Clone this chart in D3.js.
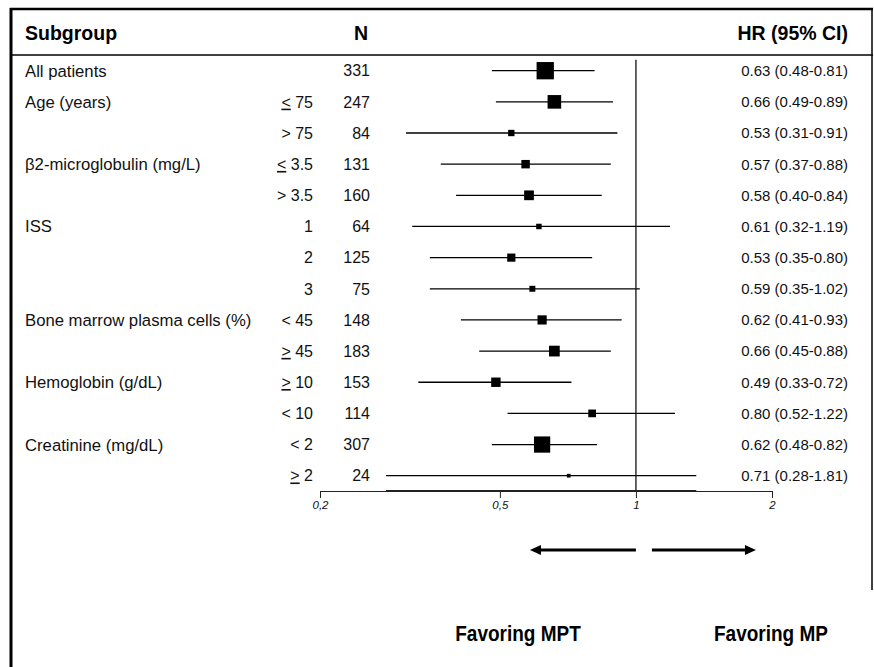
<!DOCTYPE html>
<html>
<head>
	<meta charset="utf-8">
	<title>Subgroup forest plot</title>
	<script src="https://d3js.org/d3.v7.min.js"></script>
	<style type="text/css">
		body {
			margin: 0;
			background: #fff;
		}
		svg {
			display: block;
			font-family: "Liberation Sans", Arial, Helvetica, sans-serif;
		}
		.frame {
			stroke: #000;
			fill: none;
		}
		.head {
			font-weight: bold;
			font-size: 19.5px;
		}
		.label {
			font-size: 16.7px;
			fill: #111;
		}
		.level, .count {
			font-size: 16px;
			fill: #111;
		}
		.hr {
			font-size: 15px;
			fill: #111;
		}
		.ci {
			stroke: #000;
			stroke-width: 1.3;
		}
		.axis path, .axis line {
			stroke: #222;
		}
		.axis text {
			font-size: 11.5px;
			font-style: italic;
			fill: #111;
		}
		.favor {
			font-weight: bold;
			font-size: 19px;
		}
	</style>
</head>
<body>

<div id="chart"></div>

<script>
	// rows of the table
	var groups = ["All patients", "Age (years)", "", "β2-microglobulin (mg/L)", "", "ISS", "", "",
		"Bone marrow plasma cells (%)", "", "Hemoglobin (g/dL)", "", "Creatinine (mg/dL)", ""];
	var levels = ["", "≤ 75", "> 75", "≤ 3.5", "> 3.5", "1", "2", "3", "< 45", "≥ 45", "≥ 10", "< 10", "< 2", "≥ 2"];
	var counts = [331, 247, 84, 131, 160, 64, 125, 75, 148, 183, 153, 114, 307, 24];
	var hr     = [0.63, 0.66, 0.53, 0.57, 0.58, 0.61, 0.53, 0.59, 0.62, 0.66, 0.49, 0.80, 0.62, 0.71];
	var lower  = [0.48, 0.49, 0.31, 0.37, 0.40, 0.32, 0.35, 0.35, 0.41, 0.45, 0.33, 0.52, 0.48, 0.28];
	var upper  = [0.81, 0.89, 0.91, 0.88, 0.84, 1.19, 0.80, 1.02, 0.93, 0.88, 0.72, 1.22, 0.82, 1.81];

	// axis
	var tickValues = [0.2, 0.5, 1, 2];
	var tickLabels = ["0,2", "0,5", "1", "2"];
	var clipMax = 1.36; // lines are cut here in the original figure

	var width = 874, height = 667;
	var axisY = 491;

	var svg = d3.select("#chart").append("svg")
		.attr("width", width)
		.attr("height", height);

	var x = d3.scaleLog()
		.domain([0.2, 2])
		.range([320, 772]);

	var y = d3.scalePoint()
		.domain(d3.range(counts.length))
		.range([70.7, 475.7]);

	var boxSize = d3.scaleLinear()
		.domain(d3.extent(counts))
		.range([3.7, 17.3]);

	var fmt = d3.format(".2f");

	// frame
	svg.append("line").attr("class", "frame")
		.attr("x1", 10).attr("x2", 873).attr("y1", 9).attr("y2", 9)
		.attr("stroke-width", 2.5);
	svg.append("line").attr("class", "frame")
		.attr("x1", 10).attr("x2", 873).attr("y1", 55).attr("y2", 55)
		.attr("stroke-width", 1.5);
	svg.append("line").attr("class", "frame")
		.attr("x1", 11).attr("x2", 11).attr("y1", 8).attr("y2", height)
		.attr("stroke-width", 3);
	svg.append("line").attr("class", "frame")
		.attr("x1", 872).attr("x2", 872).attr("y1", 8).attr("y2", 590)
		.attr("stroke-width", 1.5);

	// header
	svg.append("text").attr("class", "head")
		.attr("x", 25).attr("y", 40).text("Subgroup");
	svg.append("text").attr("class", "head")
		.attr("x", 368).attr("y", 40).attr("text-anchor", "end").text("N");
	svg.append("text").attr("class", "head")
		.attr("x", 848).attr("y", 40).attr("text-anchor", "end").text("HR (95% CI)");

	var rows = svg.selectAll(".row")
		.data(counts)
		.enter()
		.append("g")
		.attr("class", "row")
		.attr("transform", function(d, i) { return "translate(0," + y(i) + ")"; });

	rows.append("text")
		.attr("class", "label")
		.attr("x", 25)
		.attr("dy", "0.36em")
		.text(function(d, i) { return groups[i]; });

	// levels: ≤ / ≥ drawn as underlined < / >
	rows.append("text")
		.attr("class", "level")
		.attr("x", 313)
		.attr("dy", "0.36em")
		.attr("text-anchor", "end")
		.each(function(d, i) {
			var t = d3.select(this), s = levels[i];
			if (s[0] == "≤" || s[0] == "≥") {
				t.append("tspan")
					.style("text-decoration", "underline")
					.text(s[0] == "≤" ? "<" : ">");
				t.append("tspan").text(s.slice(1));
			} else {
				t.text(s);
			}
		});

	rows.append("text")
		.attr("class", "count")
		.attr("x", 370)
		.attr("dy", "0.36em")
		.attr("text-anchor", "end")
		.text(function(d) { return d; });

	rows.append("text")
		.attr("class", "hr")
		.attr("x", 848)
		.attr("dy", "0.36em")
		.attr("text-anchor", "end")
		.text(function(d, i) {
			return fmt(hr[i]) + " (" + fmt(lower[i]) + "-" + fmt(upper[i]) + ")";
		});

	// reference line at HR = 1
	svg.append("line")
		.attr("x1", x(1)).attr("x2", x(1))
		.attr("y1", 59.7).attr("y2", axisY)
		.attr("stroke", "#111")
		.attr("stroke-width", 1.3);

	// confidence intervals
	rows.append("line")
		.attr("class", "ci")
		.attr("x1", function(d, i) { return x(lower[i]); })
		.attr("x2", function(d, i) { return x(Math.min(upper[i], clipMax)); });

	rows.append("rect")
		.attr("x", function(d, i) { return x(hr[i]) - boxSize(d) / 2; })
		.attr("y", function(d) { return -boxSize(d) / 2; })
		.attr("width", function(d) { return boxSize(d); })
		.attr("height", function(d) { return boxSize(d); })
		.attr("fill", "#000");

	// axis
	var axis = d3.axisBottom(x)
		.tickValues(tickValues)
		.tickFormat(function(d, i) { return tickLabels[i]; })
		.tickSize(7)
		.tickSizeOuter(0)
		.tickPadding(3);

	var gAxis = svg.append("g")
		.attr("class", "axis")
		.attr("transform", "translate(0," + axisY + ")")
		.call(axis);
	gAxis.select(".domain").attr("stroke-width", 1.2);
	gAxis.selectAll("text").attr("font-family", null).attr("font-size", null);

	// heavier stretch on the axis under the last interval (as in the figure)
	var last = counts.length - 1;
	svg.append("line")
		.attr("x1", x(lower[last])).attr("x2", x(Math.min(upper[last], clipMax)))
		.attr("y1", axisY).attr("y2", axisY)
		.attr("stroke", "#222")
		.attr("stroke-width", 2);

	// direction arrows
	var arrowY = 550;
	var x1 = x(1);
	function arrow(from, to) {
		var dir = to > from ? 1 : -1;
		svg.append("line")
			.attr("x1", from).attr("x2", to - dir * 8)
			.attr("y1", arrowY).attr("y2", arrowY)
			.attr("stroke", "#000")
			.attr("stroke-width", 3);
		svg.append("path")
			.attr("d", "M" + to + "," + arrowY + "L" + (to - dir * 11) + "," + (arrowY - 5) +
				"L" + (to - dir * 11) + "," + (arrowY + 5) + "Z")
			.attr("fill", "#000");
	}
	arrow(x1, x1 - 106);
	arrow(x1 + 16, x1 + 120);

	// the figure uses a tall condensed bold face here; stretch vertically
	function favor(cx, label) {
		svg.append("text").attr("class", "favor")
			.attr("transform", "translate(" + cx + ",641) scale(1,1.15)")
			.attr("text-anchor", "middle")
			.text(label);
	}
	favor(518, "Favoring MPT");
	favor(771, "Favoring MP");
</script>

</body>
</html>
